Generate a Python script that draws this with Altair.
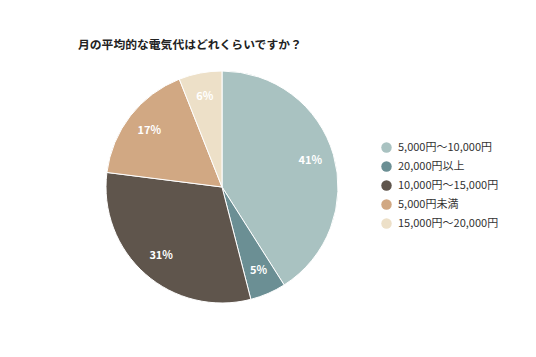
import altair as alt
import pandas as pd

categories = ["5,000円～10,000円", "20,000円以上", "10,000円～15,000円", "5,000円未満", "15,000円～20,000円"]
values = [41, 5, 31, 17, 6]
colors = ["#A9C2C1", "#6B8F94", "#5F554C", "#D1A883", "#EDE0C8"]
title_text = "月の平均的な電気代はどれくらいですか？"

df = pd.DataFrame({"cat": categories, "val": values, "order": list(range(len(values)))})
df["label"] = df["val"].astype(str) + "%"

FONT = "Noto Sans CJK JP"
CX, CY, R = 222, 187, 116

base = alt.Chart(df).encode(
    theta=alt.Theta("val:Q", stack=True),
    order=alt.Order("order:Q"),
    x=alt.value(CX),
    y=alt.value(CY),
)

arcs = base.mark_arc(outerRadius=R, stroke="white", strokeWidth=1).encode(
    color=alt.Color(
        "cat:N",
        scale=alt.Scale(domain=categories, range=colors),
        sort=categories,
        legend=alt.Legend(
            title=None,
            orient="none",
            legendX=381,
            legendY=142,
            symbolType="circle",
            symbolSize=110,
            symbolStrokeWidth=0,
            labelFontSize=11,
            labelFont=FONT,
            labelColor="#333333",
            labelOffset=6,
            rowPadding=7,
        ),
    )
)

labels = base.mark_text(
    radius=92, color="white", fontWeight="bold", fontSize=11, font=FONT
).encode(text="label:N")

title = alt.Chart(pd.DataFrame({"t": [title_text]})).mark_text(
    align="left", baseline="middle", fontSize=11.8, fontWeight="bold", font=FONT, color="#222222"
).encode(text="t:N", x=alt.value(78), y=alt.value(45))

chart = alt.layer(arcs, labels, title).properties(
    width=534, height=354, autosize=alt.AutoSizeParams(type="none"), padding=0,
    background="white",
).configure_view(stroke=None, strokeWidth=0)

chart.save("out.html", embed_options={"renderer": "svg", "actions": False})
